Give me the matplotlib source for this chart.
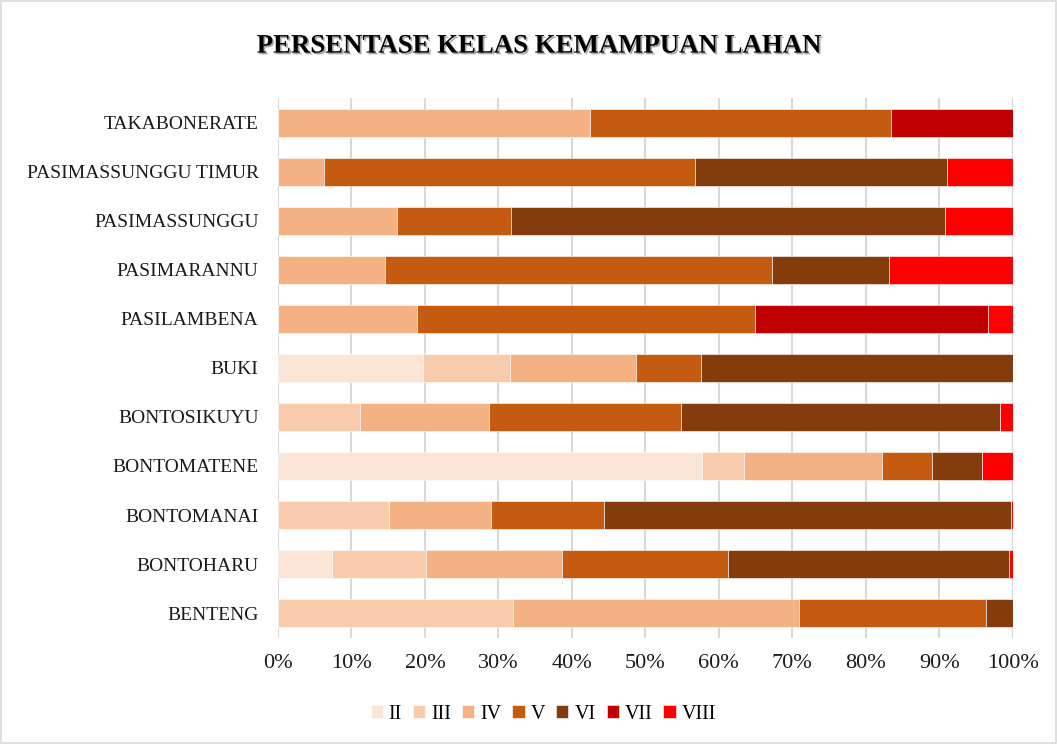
# kelas_lahan.py
import matplotlib.pyplot as plt
import matplotlib.patheffects as pe
import numpy as np

# Data (percent per village, bottom to top)
villages = ['BENTENG', 'BONTOHARU', 'BONTOMANAI', 'BONTOMATENE', 'BONTOSIKUYU', 'BUKI',
	'PASILAMBENA', 'PASIMARANNU', 'PASIMASSUNGGU', 'PASIMASSUNGGU TIMUR', 'TAKABONERATE']
classes = ['II', 'III', 'IV', 'V', 'VI', 'VII', 'VIII']
kelas_ii = [0, 7.4, 0, 57.7, 0, 19.7, 0, 0, 0, 0, 0]
kelas_iii = [32.0, 12.8, 15.1, 5.8, 11.2, 11.9, 0, 0, 0, 0, 0]
kelas_iv = [38.9, 18.4, 13.9, 18.7, 17.5, 17.1, 18.9, 14.6, 16.2, 6.3, 42.5]
kelas_v = [25.5, 22.6, 15.4, 6.8, 26.1, 8.9, 46.0, 52.6, 15.5, 50.5, 41.0]
kelas_vi = [3.6, 38.3, 55.4, 6.8, 43.5, 42.4, 0, 16.0, 59.1, 34.3, 0]
kelas_vii = [0, 0, 0, 0, 0, 0, 31.7, 0, 0, 0, 16.5]
kelas_viii = [0, 0.5, 0.2, 4.2, 1.7, 0, 3.4, 16.8, 9.2, 8.9, 0]
ticks = [0, 10, 20, 30, 40, 50, 60, 70, 80, 90, 100]

plt.rcParams['font.family'] = 'Liberation Serif'

#------------------------
# Chart

# Generates stacked horizontal bar chart
def stacked_barh_chart():
	series = [kelas_ii, kelas_iii, kelas_iv, kelas_v, kelas_vi, kelas_vii, kelas_viii]
	colors = ['#FBE5D6', '#F8CBAD', '#F4B183', '#C55A11', '#843C0C', '#C00000', '#FF0000']
	height = 0.57       # the height of the bars

	fig = plt.figure(figsize=(10.57, 7.44), dpi=100)
	ax = fig.add_axes([0.263, 0.143, 0.695, 0.725])

	y = np.arange(len(villages))
	left = np.zeros(len(villages))
	for values, name, color in zip(series, classes, colors):
		ax.barh(y, values, height=height, left=left, color=color, label=name,
			edgecolor='white', linewidth=0.4)
		left += np.array(values)

	ax.set_xlim(0, 100)
	ax.set_ylim(-0.5, len(villages) - 0.5)
	ax.set_xticks(ticks)
	ax.set_xticklabels([f'{t}%' for t in ticks])
	ax.set_yticks(y)
	ax.set_yticklabels(villages)
	ax.tick_params(axis='both', length=0, colors='#1A1A1A')
	ax.tick_params(axis='y', pad=14, labelsize=14)
	ax.tick_params(axis='x', pad=12, labelsize=16)
	ax.xaxis.grid(linewidth=1.5, color='#D9D9D9')
	ax.set_axisbelow(True)
	for side in ['top', 'right', 'bottom', 'left']:
		ax.spines[side].set_visible(False)

	fig.text(0.51, 0.938, 'PERSENTASE KELAS KEMAMPUAN LAHAN', ha='center', va='center',
		fontsize=19.3, fontweight='bold',
		path_effects=[pe.withSimplePatchShadow(offset=(1.2, -1.2), alpha=0.35)])

	fig.legend(loc='center', bbox_to_anchor=(0.514, 0.04), ncol=7, frameon=False,
		fontsize=14.5, handlelength=0.6, handleheight=0.6, handletextpad=0.3, columnspacing=0.55)

	# light chart border
	fig.patches.append(plt.Rectangle((0.001, 0.001), 0.998, 0.998, transform=fig.transFigure,
		fill=False, edgecolor='#D9D9D9', linewidth=1.2))

	plt.savefig('out.png')
	plt.close()
	return

def main():
	stacked_barh_chart()
	return

if __name__ == "__main__":
	main()
